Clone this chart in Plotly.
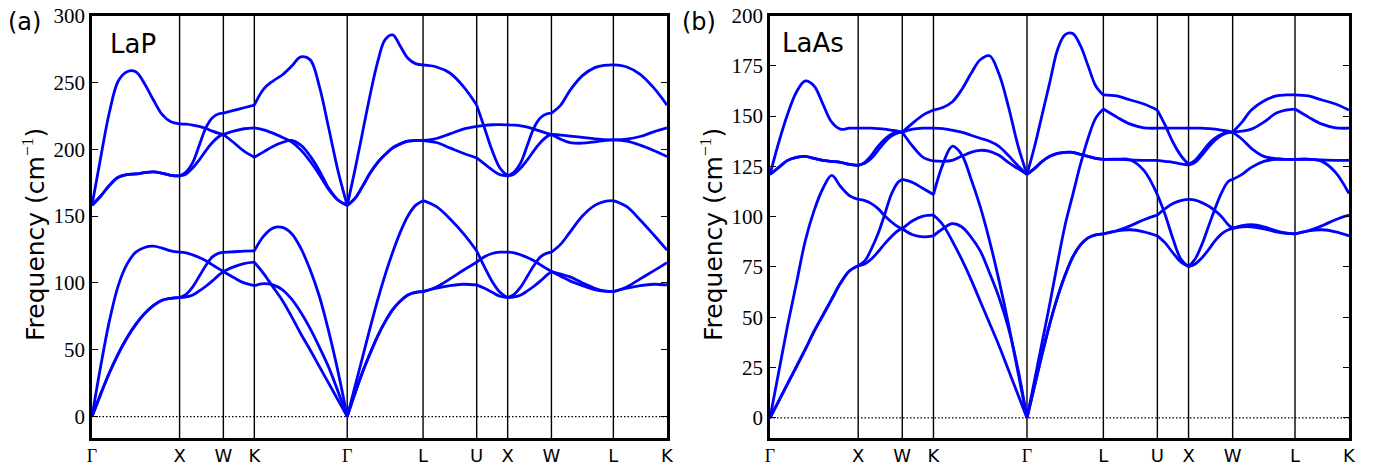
import plotly.graph_objects as go

# ---------------- k-path -----------------
path_labels = ["Γ", "X", "W", "K", "Γ", "L", "U", "X", "W", "L", "K"]
seg_lengths = [1.0, 0.5, 0.35355, 1.06066, 0.86603, 0.61237, 0.35355, 0.5, 0.70711, 0.61237]
F11 = [0, .1, .2, .3, .4, .5, .6, .7, .8, .9, 1]
F8 = [0, .15, .3, .45, .6, .75, .9, 1]
F4 = [0, 1 / 3, 2 / 3, 1]
F5 = [0, .25, .5, .75, 1]
F7 = [0, .15, .3, .5, .7, .85, 1]
seg_fracs = [F11, F8, F4, F11, F11, F5, F5, F8, F7, F5]

# ---------------- (a) LaP bands (cm^-1), one list per path segment -----------------
lap_A1 = [[0, 17, 33, 47, 59, 69, 77, 83, 87, 88.5, 89],
          [89, 89.5, 91, 94, 97.5, 101.5, 106, 108.5],
          [108.5, 112, 114.5, 115.5],
          [115.5, 107, 97, 87, 75, 62, 50, 37.5, 25, 12.5, 0],
          [0, 17, 33, 47, 60, 71, 80, 86.5, 91, 93, 93.5],
          [93.5, 96, 98, 99, 98.5],
          [98.5, 96, 93, 90, 89],
          [89, 89.5, 91, 94, 97.5, 101.5, 106, 108.5],
          [108.5, 105, 101.5, 98, 95, 93.8, 93.5],
          [93.5, 96, 98, 99, 98.5]]
lap_A2 = [[0, 17, 33, 47, 59, 69, 77, 83, 87, 88.5, 89],
          [89, 91.5, 97, 105, 113, 119.5, 122.3, 122.8],
          [122.8, 123.3, 123.8, 124],
          [124, 135, 141, 141.5, 137, 126, 110, 90, 64, 34, 0],
          [0, 17, 33, 47, 60, 71, 80, 86.5, 91, 93, 93.5],
          [93.5, 97, 103, 109.5, 115.5],
          [115.5, 119.5, 122, 123, 123],
          [123, 122.5, 121, 119, 116.5, 113.5, 110.5, 108.5],
          [108.5, 106.5, 104.5, 100, 96, 94, 93.5],
          [93.5, 97, 103, 109, 115.2]]
lap_A3 = [[0, 38, 72, 98, 114, 123, 126.5, 127.5, 126, 124, 123],
          [123, 122.5, 121, 119, 116.5, 113.5, 110.5, 108.5],
          [108.5, 104, 100, 98],
          [98, 99.5, 98.5, 95, 88, 78, 66, 52, 37, 19, 0],
          [0, 22, 44, 66, 87, 106, 123, 138, 150, 158, 161.5],
          [161.5, 157, 148, 137, 124],
          [124, 112, 101, 93, 89],
          [89, 91.5, 97, 105, 113, 119.5, 122.3, 123],
          [123, 129, 138, 150, 158, 160.8, 161.5],
          [161.5, 157, 147, 136, 124.5]]
lap_O1 = [[158, 165, 173, 179, 181, 181.5, 182.5, 183, 182, 180.5, 180],
          [180, 181.5, 186, 192, 199, 205, 209.5, 211],
          [211, 213.5, 215.3, 216],
          [216, 214.5, 212, 209, 205.5, 199.5, 191, 181, 170, 162, 158],
          [158, 163, 172, 182, 190, 196, 201, 204, 206, 206.5, 206.5],
          [206.5, 205, 201, 197, 193.5],
          [193.5, 189, 184.5, 181, 180],
          [180, 181.5, 186, 192, 199, 205, 209.5, 211],
          [211, 207.5, 205, 204.5, 205.5, 206.5, 207],
          [207, 206, 203, 199, 194.5]]
lap_O2 = [[158, 165, 173, 179, 181, 181.5, 182.5, 183, 182, 180.5, 180],
          [180, 183, 190, 203, 216, 223.5, 226.5, 227],
          [227, 229, 231, 233],
          [233, 245, 251, 255.5, 262, 269, 267, 247, 216, 184, 158],
          [158, 163, 172, 182, 190, 196, 201, 204, 206, 206.5, 206.5],
          [206.5, 208, 211.5, 215, 217],
          [217, 217.8, 218.3, 218.4, 218.2],
          [218.2, 218, 217.5, 216.5, 215, 213.5, 211.8, 211],
          [211, 210.5, 209.8, 208.8, 207.8, 207.2, 207],
          [207, 207.5, 209.5, 213, 216]]
lap_O3 = [[158, 194, 228, 251, 258, 258, 249, 237, 226, 220.5, 219],
          [219, 218.7, 218, 217, 215.5, 213.5, 211.8, 211],
          [211, 205, 198.5, 194],
          [194, 198, 202, 205, 206.5, 203, 195, 184, 171, 162, 158],
          [158, 184, 212, 240, 265, 282, 285.5, 277, 268, 264, 263],
          [263, 261.5, 257, 247, 233],
          [233, 216, 199, 186, 180],
          [180, 183, 190, 203, 216, 223.5, 226.5, 227],
          [227, 233, 244, 255, 261, 262.7, 263],
          [263, 261.5, 256, 246, 233]]

# ---------------- (b) LaAs bands (cm^-1) -----------------
las_B1 = [[0, 8.5, 17, 25.5, 34, 43, 51, 59, 67, 73, 75.6],
          [75.6, 76.5, 79, 82.5, 86.5, 90, 93, 94],
          [94, 98, 100.3, 100.8],
          [100.8, 96, 88, 79, 69, 58, 47, 36, 24, 12, 0],
          [0, 16, 32, 47, 60, 71, 80, 86, 89.5, 91, 91.5],
          [91.5, 93, 95.5, 98.5, 100.8],
          [100.8, 104, 106.5, 108, 108.6],
          [108.6, 108.2, 107, 105.3, 103, 100, 96, 94.2],
          [94.2, 95.5, 96, 95, 93, 92, 91.5],
          [91.5, 93, 95.5, 98.5, 100.8]]
las_B2 = [[0, 8.5, 17, 25.5, 34, 43, 51, 59, 67, 73, 75.6],
          [75.6, 78, 84, 91.5, 101, 111, 117, 118.5],
          [118.5, 117, 114, 111],
          [111, 126, 135, 131, 119, 105, 88, 68.5, 47, 23.5, 0],
          [0, 19, 38, 57, 77, 96, 111, 126, 139, 149, 153.5],
          [153.5, 149.5, 146, 144.2, 144],
          [144, 144, 144, 144, 144],
          [144, 144, 144, 143.8, 143.5, 143, 142.5, 142],
          [142, 142.5, 143.5, 147, 151.5, 153, 153.5],
          [153.5, 149.5, 146, 144.2, 144]]
las_B3 = [[0, 23, 46, 67, 88, 103, 114, 120.5, 115, 110.5, 108.6],
          [108.6, 108, 106.5, 104, 100.5, 97.5, 95, 94],
          [94, 91, 90, 90.5],
          [90.5, 94, 96.5, 95, 90, 83, 72, 60, 45, 25, 0],
          [0, 16, 32, 47, 60, 71, 80, 86, 89.5, 91, 91.5],
          [91.5, 93, 93.5, 92.5, 90.5],
          [90.5, 87, 82, 77.5, 75.2],
          [75.2, 76.5, 79.5, 83.5, 88, 91.5, 93.5, 94.2],
          [94.2, 95, 95, 94, 92.5, 91.7, 91.5],
          [91.5, 93, 93.5, 92.5, 90.5]]
las_B4 = [[121, 124.5, 128, 129.5, 130, 129, 128, 127.5, 127, 126, 125.5],
          [125.5, 126.5, 129, 133, 137, 140, 141.7, 142],
          [142, 146.5, 150.5, 153],
          [153, 154.3, 157, 163, 171, 178, 180, 171, 155, 136, 121],
          [121, 135, 151, 167, 183, 190.5, 191, 185, 175, 165, 160.5],
          [160.5, 160, 158, 156, 153],
          [153, 145.5, 137, 130.5, 126],
          [126, 128, 132, 136, 139, 141, 142, 142],
          [142, 147, 153, 157.5, 160, 160.5, 160.5],
          [160.5, 160, 158, 156, 153]]
las_B5 = [[121, 124.5, 128, 129.5, 130, 129, 128, 127.5, 127, 126, 125.5],
          [125.5, 127, 130.5, 135, 138.5, 141, 142, 142],
          [142, 135, 129.5, 127.7],
          [127.7, 127.5, 128, 130, 132, 133, 132.5, 130.5, 127, 124, 121],
          [121, 124, 127.5, 130, 131.5, 132, 132, 131, 130, 129, 128.5],
          [128.5, 128.5, 128.2, 128, 128],
          [128, 127.5, 127, 126.2, 125.6],
          [125.6, 127, 130.5, 134.5, 138, 140.5, 141.8, 142],
          [142, 138.5, 134, 130, 128.8, 128.5, 128.5],
          [128.5, 128.5, 128.2, 128, 128]]
las_B6 = [[121, 137, 151, 162, 167.5, 165, 156, 147, 143.5, 144, 144],
          [144, 144, 144, 143.8, 143.5, 143, 142.5, 142],
          [142, 143.5, 144, 144],
          [144, 143.8, 143, 142, 140.5, 139, 137.5, 135, 130.5, 125.5, 121],
          [121, 124, 127.5, 130, 131.5, 132, 132, 131, 130, 129, 128.5],
          [128.5, 128.6, 128.2, 123, 111],
          [111, 101, 89, 79, 75.2],
          [75.2, 79, 86, 95, 104, 112, 117.5, 118.5],
          [118.5, 121, 124.5, 127.5, 128.5, 128.5, 128.5],
          [128.5, 128.6, 127.5, 122, 111.5]]

lap_bands = [lap_A1, lap_A2, lap_A3, lap_O1, lap_O2, lap_O3]
las_bands = [las_B1, las_B2, las_B3, las_B4, las_B5, las_B6]

# cumulative k positions of the high-symmetry points
kticks = [0.0]
for L in seg_lengths:
    kticks.append(kticks[-1] + L)
kmax = kticks[-1]

BLUE = "#0000ff"
fig = go.Figure()


def add_bands(bands, xa, ya):
    for band in bands:
        for s, vals in enumerate(band):
            xs = [kticks[s] + f * seg_lengths[s] for f in seg_fracs[s]]
            fig.add_trace(go.Scatter(x=xs, y=vals, mode="lines", xaxis=xa, yaxis=ya,
                                     line=dict(color=BLUE, width=2.8, shape="spline", smoothing=1.0),
                                     hoverinfo="skip", showlegend=False))


add_bands(lap_bands, "x", "y")
add_bands(las_bands, "x2", "y2")

W, H = 1380, 470
OFF = 8  # page body margin


def px(x):
    return (x - OFF) / W


def py(y):
    return 1 - (y - OFF) / H


ydom = [py(438), py(15.5)]
xdomA = [px(92), px(667)]
xdomB = [px(770), px(1349)]

SERIF = "Liberation Serif"
SANS = "DejaVu Sans"
ticktext = [("<span style='font-family:%s'>Γ</span>" % SERIF) if t == "Γ" else t for t in path_labels]

xcommon = dict(range=[0, kmax], tickvals=kticks, ticktext=ticktext, showgrid=False, zeroline=False,
               showline=True, linecolor="black", linewidth=2.5, mirror=True, ticks="",
               automargin=False,
               tickfont=dict(family=SANS, size=18, color="black"))
ycommon = dict(showgrid=False, zeroline=False, showline=True, linecolor="black", linewidth=2.5,
               mirror="ticks", ticks="inside", ticklen=6, tickwidth=1.3, tickcolor="black",
               automargin=False, ticklabeloverflow="allow",
               tickfont=dict(family=SERIF, size=21, color="black"))

fig.update_layout(
    width=W, height=H, margin=dict(l=0, r=0, t=0, b=0, autoexpand=False),
    paper_bgcolor="white", plot_bgcolor="white",
    xaxis=dict(domain=xdomA, anchor="y", **xcommon),
    yaxis=dict(domain=ydom, anchor="x", range=[-16, 300], tickvals=list(range(0, 301, 50)), **ycommon),
    xaxis2=dict(domain=xdomB, anchor="y2", **xcommon),
    yaxis2=dict(domain=ydom, anchor="x2", range=[-10, 200], tickvals=list(range(0, 201, 25)), **ycommon),
)

shapes = []
for xa, ya in (("x", "y"), ("x2", "y2")):
    for k in kticks[1:-1]:
        shapes.append(dict(type="line", xref=xa, yref=ya + " domain", x0=k, x1=k, y0=0, y1=1,
                           line=dict(color="black", width=1.4), layer="below"))
    shapes.append(dict(type="line", xref=xa, yref=ya, x0=0, x1=kmax, y0=0, y1=0,
                       line=dict(color="black", width=1.3, dash="1.5px,2px"), layer="below"))
fig.update_layout(shapes=shapes)

ytitle = "Frequency (cm<sup><span style='font-family:%s'>−1</span></sup>)" % SERIF
annotations = [
    dict(text="(a)", x=px(24), y=py(22), size=24, angle=0),
    dict(text="(b)", x=px(699), y=py(22), size=24, angle=0),
    dict(text="LaP", x=px(133), y=py(44), size=26, angle=0),
    dict(text="LaAs", x=px(813), y=py(43), size=26, angle=0),
    dict(text=ytitle, x=px(33), y=py(235), size=25, angle=-90),
    dict(text=ytitle, x=px(711), y=py(235), size=25, angle=-90),
]
fig.update_layout(annotations=[
    dict(text=a["text"], x=a["x"], y=a["y"], xref="paper", yref="paper", showarrow=False,
         xanchor="center", yanchor="middle", textangle=a["angle"], borderpad=0,
         font=dict(family=SANS, size=a["size"], color="black")) for a in annotations])

fig.write_html("out.html")
